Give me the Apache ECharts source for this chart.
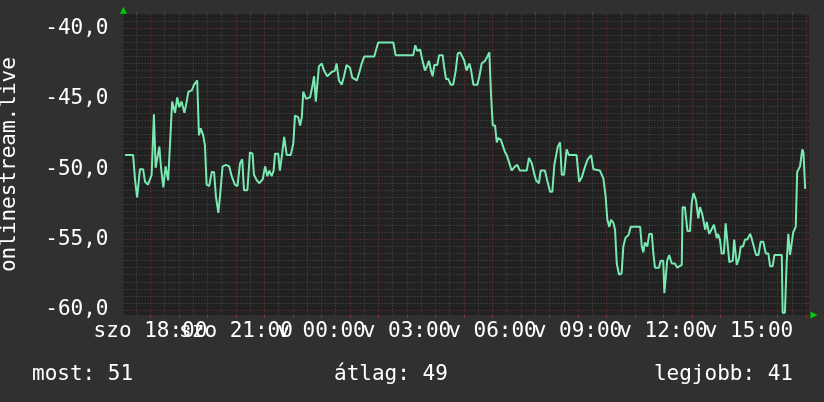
<!DOCTYPE html>
<html><head><meta charset="utf-8">
<script src="https://cdn.jsdelivr.net/npm/echarts@6/dist/echarts.min.js"></script>
<style>html,body{margin:0;padding:0;background:#303030}#c{width:824px;height:402px}</style>
</head><body><div id="c"></div>
<script>
// time in hours since Saturday 00:00
const times = [
17.11,17.39,17.46,17.53,17.60,17.63,17.74,17.81,17.91,18.04,
18.12,18.18,18.25,18.31,18.37,18.45,18.53,18.62,18.68,18.76,
18.86,18.94,19.01,19.09,19.19,19.27,19.33,19.45,19.53,19.64,
19.70,19.76,19.85,19.91,19.97,20.06,20.15,20.23,20.30,20.38,
20.44,20.53,20.65,20.76,20.85,20.96,21.05,21.14,21.22,21.28,
21.40,21.49,21.58,21.63,21.73,21.82,21.94,22.02,22.10,22.17,
22.25,22.32,22.37,22.48,22.54,22.62,22.69,22.78,22.92,23.01,
23.07,23.18,23.25,23.31,23.36,23.46,23.60,23.69,23.74,23.80,
23.85,23.91,24.01,24.09,24.20,24.36,24.47,24.53,24.61,24.71,
24.79,24.88,25.00,25.08,25.24,25.33,25.41,25.50,25.85,25.99,
26.52,26.60,27.22,27.29,27.36,27.46,27.54,27.63,27.70,27.77,
27.84,27.90,27.96,28.06,28.13,28.25,28.30,28.37,28.45,28.53,
28.62,28.71,28.78,28.86,28.94,29.01,29.09,29.19,29.25,29.33,
29.47,29.54,29.62,29.74,29.82,29.89,29.94,30.01,30.09,30.15,
30.20,30.29,30.34,30.44,30.50,30.58,30.67,30.79,30.87,30.96,
31.20,31.28,31.38,31.46,31.53,31.63,31.69,31.84,31.92,32.02,
32.10,32.17,32.23,32.29,32.37,32.43,32.51,32.60,32.68,32.95,
33.04,33.13,33.25,33.34,33.46,33.54,33.77,33.83,33.89,33.97,
34.03,34.10,34.16,34.24,34.30,34.36,34.44,34.53,34.59,34.67,
34.77,34.85,35.18,35.24,35.29,35.35,35.43,35.50,35.59,35.64,
35.70,35.84,35.90,35.99,36.03,36.09,36.13,36.20,36.29,36.40,
36.48,36.64,36.67,36.75,36.84,36.93,36.99,37.05,37.14,37.22,
37.28,37.36,37.46,37.52,37.60,37.68,37.77,37.87,37.91,37.98,
38.04,38.12,38.18,38.25,38.31,38.43,38.48,38.57,38.65,38.71,
38.79,38.86,38.94,39.04,39.09,39.15,39.25,39.33,39.41,39.50,
39.59,39.68,39.74,39.83,39.89,40.15,40.18,40.26,40.32,40.38,
40.44,40.50,40.55,40.64,40.69,40.79,40.87,40.91,40.97
];
const values = [
-49.0,-49.0,-50.8,-52.0,-52.0,-50.0,-50.0,-50.9,-51.1,-50.4,
-46.1,-49.9,-49.9,-48.4,-49.9,-51.3,-49.8,-50.8,-48.4,-45.2,
-46.0,-44.9,-45.6,-45.2,-46.0,-45.2,-44.5,-44.4,-44.0,-43.7,
-47.6,-47.1,-47.6,-48.3,-51.1,-51.2,-50.2,-50.2,-52.0,-53.1,
-51.9,-49.8,-49.7,-49.8,-50.5,-51.1,-51.2,-49.6,-49.3,-51.5,
-51.5,-48.8,-48.9,-50.4,-50.8,-51.0,-50.7,-49.8,-50.5,-50.1,
-50.5,-50.1,-48.9,-48.9,-50.1,-48.9,-47.7,-49.0,-49.0,-48.2,
-46.2,-46.3,-46.9,-46.3,-44.5,-45.0,-44.9,-44.0,-43.4,-45.2,
-45.2,-42.7,-42.5,-43.0,-43.4,-43.1,-43.0,-42.5,-43.7,-44.0,
-43.4,-42.6,-42.8,-43.5,-43.7,-43.1,-42.5,-42.0,-42.0,-41.0,
-41.0,-41.9,-41.9,-41.2,-41.6,-41.5,-42.25,-43.0,-42.7,-42.3,
-43.0,-43.4,-42.6,-42.6,-41.9,-41.9,-42.7,-43.6,-43.6,-44.0,
-44.0,-43.0,-41.8,-41.7,-42.0,-42.3,-43.0,-42.5,-43.0,-44.0,
-44.0,-43.4,-42.5,-42.3,-42.0,-41.7,-44.4,-46.9,-46.9,-48.1,
-47.8,-47.9,-48.2,-48.8,-49.0,-49.5,-50.1,-49.8,-49.7,-50.1,
-50.1,-49.2,-49.6,-50.3,-50.8,-51.0,-50.1,-50.1,-50.8,-51.6,
-51.6,-49.7,-49.7,-48.4,-48.1,-50.4,-50.4,-48.6,-49.0,-49.0,
-50.9,-50.6,-49.8,-49.3,-49.0,-50.0,-50.1,-50.1,-50.65,-51.96,
-53.6,-54.1,-53.6,-53.8,-54.3,-56.7,-57.5,-57.4,-55.5,-54.85,
-54.7,-54.1,-54.1,-55.5,-55.9,-55.2,-55.5,-54.6,-54.6,-55.9,
-57.0,-57.0,-56.5,-56.5,-58.8,-58.8,-56.5,-56.1,-56.7,-56.7,
-57.0,-56.8,-52.7,-52.7,-54.4,-54.4,-52.4,-51.7,-52.2,-53.5,
-52.7,-53.2,-54.3,-53.75,-54.6,-54.3,-53.95,-54.9,-54.6,-55.0,
-56.0,-56.0,-53.85,-53.85,-56.6,-56.5,-55.0,-56.8,-56.3,-55.5,
-55.5,-55.0,-55.0,-54.6,-54.9,-54.8,-56.1,-56.1,-55.15,-55.15,
-56.0,-56.0,-56.9,-56.9,-56.1,-56.1,-60.2,-60.2,-56.7,-54.6,
-56.1,-56.1,-54.5,-54.1,-50.2,-49.8,-48.6,-48.8,-51.4
];
const xLabelHours = [18, 21, 24, 27, 30, 33, 36, 39];
const xLabelTexts = ['szo 18:00', 'szo 21:00', 'v 00:00', 'v 03:00', 'v 06:00', 'v 09:00', 'v 12:00', 'v 15:00'];
const yMajorTicks = [-60, -55, -50, -45, -40];
const yLabelTexts = ['-60,0', '-55,0', '-50,0', '-45,0', '-40,0'];
const legendTexts = ['most: 51', 'átlag: 49', 'legjobb: 41'];
const axisName = 'onlinestream.live';

const X_MIN = 17.053, X_MAX = 41.105;
const Y_MIN = -60.36, Y_MAX = -39.0;

const majorX = []; for (let h = 18; h <= 41; h += 1) majorX.push(h);
const minorX = []; for (let h = 17.5; h <= 41; h += 1) minorX.push(h);
const minorY = []; for (let v = -60; v <= -39.5; v += 0.5) { if (Math.abs(v % 5) > 0.01) minorY.push(v); }
// empty placeholder labels at the axis ends so the real end labels are not dropped as min/max labels
const xLabelValues = [X_MIN].concat(xLabelHours, [X_MAX]);

const FONT = 'DejaVu Sans Mono';
const RED = '#7c3434';
const GREY = '#4e4e4e';
const ARROW = '#00cc00';
const data = times.map((t, i) => [t, values[i]]);

const chart = echarts.init(document.getElementById('c'));
chart.setOption({
  backgroundColor: '#303030',
  animation: false,
  grid: { left: 123.5, right: 15, top: 14.3, bottom: 87, show: true, backgroundColor: '#212121', borderWidth: 0, containLabel: false, outerBoundsMode: 'none' },
  xAxis: [
    {
      type: 'value', position: 'bottom', min: X_MIN, max: X_MAX,
      axisLine: { show: true, symbol: ['none', 'triangle'], symbolSize: [7, 7], symbolOffset: [0, 5], lineStyle: { color: ARROW, width: 0 } },
      axisTick: { show: true, length: 3, customValues: majorX, lineStyle: { color: RED, width: 1 } },
      axisLabel: {
        customValues: xLabelValues,
        formatter: v => { const i = xLabelHours.indexOf(v); return i < 0 ? '' : xLabelTexts[i]; },
        color: '#ffffff', fontFamily: FONT, fontSize: 21, margin: 6, hideOverlap: false
      },
      splitLine: { show: true, lineStyle: { color: RED, type: [1, 2], width: 1 } }
    },
    {
      type: 'value', position: 'top', min: X_MIN, max: X_MAX,
      axisLine: { show: false },
      axisTick: { show: true, length: 2, customValues: minorX, lineStyle: { color: GREY, width: 1 } },
      axisLabel: { show: false },
      splitLine: { show: true, lineStyle: { color: GREY, type: [1, 2], width: 1 } }
    }
  ],
  yAxis: [
    {
      type: 'value', position: 'left', min: Y_MIN, max: Y_MAX,
      name: axisName, nameLocation: 'middle', nameGap: 103, nameRotate: 90,
      nameTextStyle: { color: '#ffffff', fontFamily: FONT, fontSize: 21 },
      axisLine: { show: true, symbol: ['none', 'triangle'], symbolSize: [7, 7], symbolOffset: [0, 4], lineStyle: { color: ARROW, width: 0 } },
      axisTick: { show: false, customValues: yMajorTicks },
      axisLabel: { customValues: yMajorTicks, formatter: v => yLabelTexts[yMajorTicks.indexOf(v)], color: '#ffffff', fontFamily: FONT, fontSize: 21, margin: 15, showMinLabel: true, showMaxLabel: true },
      splitLine: { show: true, lineStyle: { color: RED, type: [1, 2], width: 1 } }
    },
    {
      type: 'value', position: 'right', min: Y_MIN, max: Y_MAX,
      axisLine: { show: false },
      axisTick: { show: false, customValues: minorY },
      axisLabel: { show: false },
      splitLine: { show: true, lineStyle: { color: GREY, type: [1, 2], width: 1 } }
    }
  ],
  series: [{
    type: 'line', xAxisIndex: 0, yAxisIndex: 0, data: data,
    showSymbol: false, symbol: 'none',
    lineStyle: { color: '#79e9b2', width: 2 },
    z: 5
  }],
  graphic: [
    { type: 'text', left: 32, top: 364.5, style: { text: legendTexts[0], fill: '#ffffff', font: '21px "DejaVu Sans Mono"' } },
    { type: 'text', left: 334, top: 364.5, style: { text: legendTexts[1], fill: '#ffffff', font: '21px "DejaVu Sans Mono"' } },
    { type: 'text', right: 31, top: 364.5, style: { text: legendTexts[2], fill: '#ffffff', font: '21px "DejaVu Sans Mono"' } }
  ]
});
</script></body></html>
